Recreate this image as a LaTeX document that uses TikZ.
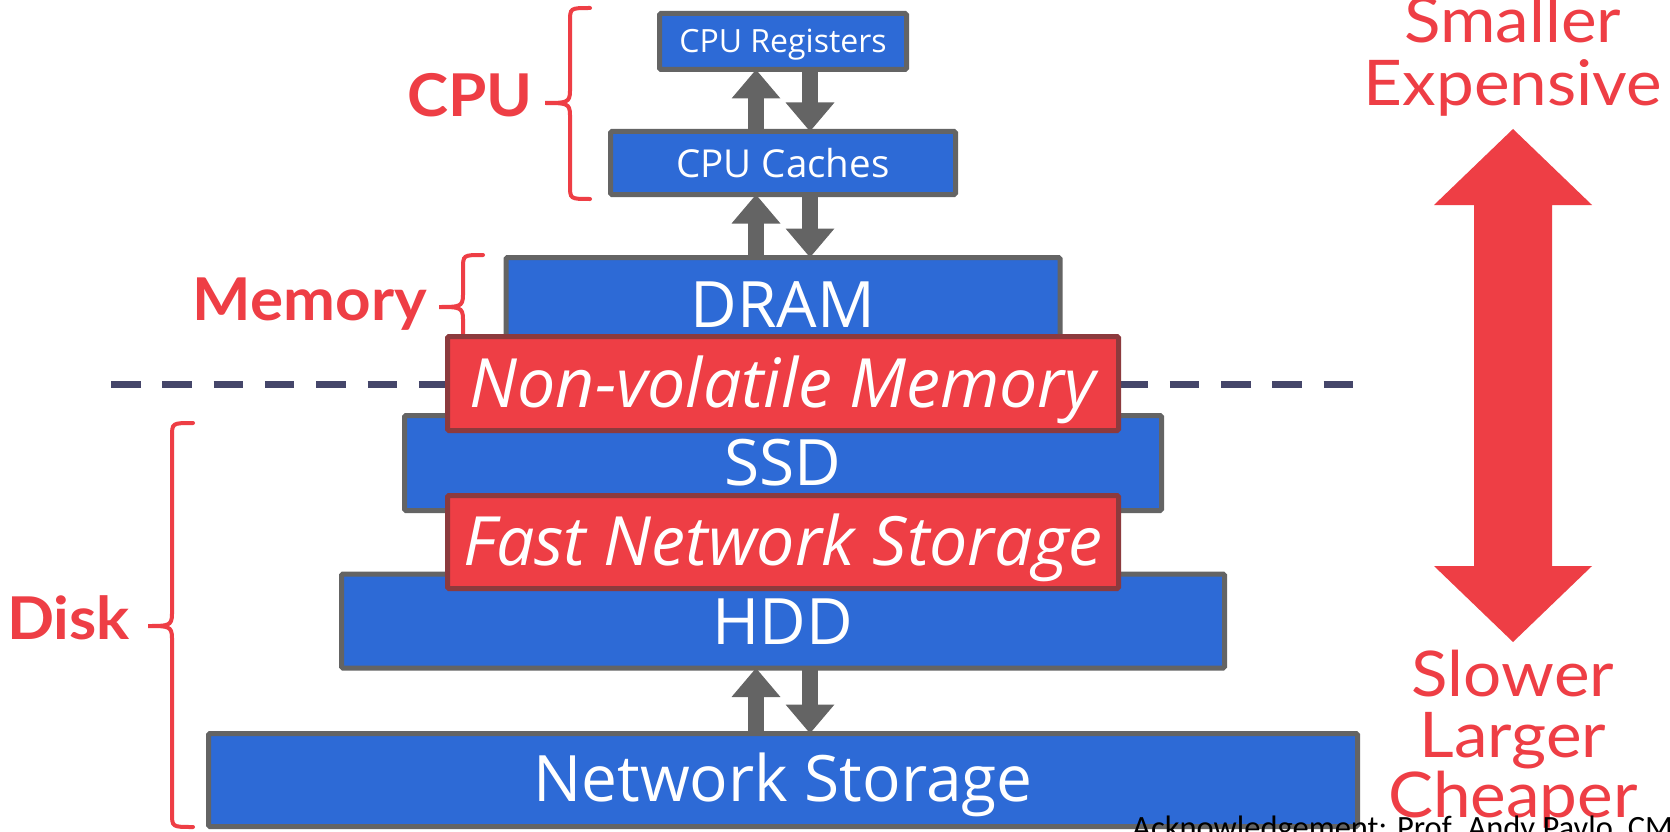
\documentclass[tikz,border=0pt]{standalone}
\usepackage{fontspec}
\setmainfont{Open Sans}
\newfontfamily\latof[FakeStretch=1.07]{Lato}
\newfontfamily\latob[FakeStretch=1.05]{Lato}
\newfontfamily\calib{Carlito}
\usetikzlibrary{arrows.meta}
\definecolor{boxblue}{HTML}{2D6AD6}
\definecolor{boxgray}{HTML}{646464}
\definecolor{hired}{HTML}{EE3E45}
\definecolor{darkred}{HTML}{8C3A3D}
\definecolor{dashnavy}{HTML}{45466A}
\newcommand\mybrace[6]{% xr, xv, xt, y1, ym, y2
  \draw[bracestyle] (#1,#4) .. controls (#2,#4) .. (#2,#4+14) -- (#2,#5-12)
    .. controls (#2,#5) and (#2-4,#5) .. (#3,#5)
    .. controls (#2-4,#5) and (#2,#5) .. (#2,#5+12) -- (#2,#6-14)
    .. controls (#2,#6) .. (#1,#6);}
\begin{document}
\begin{tikzpicture}[x=1pt,y=-1pt,
 box/.style={draw=boxgray, fill=boxblue, line width=5pt, rounded corners=1.5pt, inner sep=0pt, outer sep=0pt},
 redbox/.style={draw=darkred, fill=hired, line width=5pt, rounded corners=1.5pt, inner sep=0pt, outer sep=0pt},
 boxtext/.style={text=white, anchor=base, inner sep=0pt},
 bigtext/.style={boxtext, font=\fontsize{64}{64}\selectfont},
 italtext/.style={boxtext, font=\itshape\fontsize{68}{68}\selectfont},
 updown/.style={draw=boxgray, line width=16pt, -{Triangle[width=47pt,length=29pt]}},
 bracestyle/.style={draw=hired, line width=4pt, line cap=round},
 sepline/.style={dashnavy, line width=7.5pt, dash pattern=on 29.5pt off 21.8pt},
 lbl/.style={text=hired, font=\latob\bfseries\fontsize{59}{59}\selectfont, anchor=base east, inner sep=0pt},
 side/.style={text=hired, font=\latof\fontsize{63}{63}\selectfont, anchor=base, inner sep=0pt},
]
\useasboundingbox (0,0) rectangle (1670,832);
\clip (0,0) rectangle (1670,832);
\fill[white] (0,0) rectangle (1670,832);

% dashed separator (two runs, hidden behind the NVM box in the middle)
\draw[sepline] (111,384.5) -- (470,384.5);
\draw[sepline] (1067.2,384.5) -- (1353.5,384.5);

% braces
\mybrace{590}{570}{545}{8}{103}{199}
\mybrace{483}{463}{439}{255}{307}{359}
\mybrace{193}{172}{148}{423}{626}{827}

% boxes
\node[box, minimum width=247pt, minimum height=56pt] (regs) at (783,41.5) {};
\node[box, minimum width=345pt, minimum height=63pt] (caches) at (783,163) {};
\node[box, minimum width=554pt, minimum height=100pt] (dram) at (783,307.5) {};
\node[box, minimum width=757pt, minimum height=95pt] (ssd) at (783,463) {};
\node[box, minimum width=883pt, minimum height=94pt] (hdd) at (783,621) {};
\node[box, minimum width=1149pt, minimum height=93pt] (ns) at (783,780) {};
\node[redbox, minimum width=671pt, minimum height=94pt] (nvm) at (783,383.5) {};
\node[redbox, minimum width=671pt, minimum height=93pt] (fns) at (783,542) {};

% gray up/down arrows
\coordinate (ux) at (756,0);
\coordinate (dx) at (810,0);
\draw[updown] (caches.north -| ux) -- (regs.south -| ux);
\draw[updown] (regs.south -| dx) -- (caches.north -| dx);
\draw[updown] (dram.north -| ux) -- (caches.south -| ux);
\draw[updown] (caches.south -| dx) -- (dram.north -| dx);
\draw[updown] (ns.north -| ux) -- (hdd.south -| ux);
\draw[updown] (hdd.south -| dx) -- (ns.north -| dx);

% box texts
\node[boxtext, font=\fontsize{32}{32}\selectfont] (regst) at (783,53) {CPU Registers};
\node[boxtext, font=\fontsize{38.5}{38.5}\selectfont] (cachest) at (783,177) {CPU Caches};
\node[bigtext] (dramt) at (783,327) {DRAM};
\node[italtext] (nvmt) at (783,407) {Non-volatile Memory};
\node[bigtext] (ssdt) at (783,485) {SSD};
\node[italtext] (fnst) at (783,565) {Fast Network Storage};
\node[bigtext] (hddt) at (783,644) {HDD};
\node[bigtext] (nst) at (783,801) {Network Storage};

% left labels
\node[lbl] (cpul) at (533,117) {CPU};
\node[lbl] (meml) at (427,320) {Memory};
\node[lbl] (diskl) at (130,639) {Disk};

% big red double arrow
\fill[hired] (1513,129) -- (1592,205) -- (1552,205) -- (1552,566) -- (1592,566)
  -- (1513,642) -- (1434,566) -- (1474,566) -- (1474,205) -- (1434,205) -- cycle;

% right texts
\node[side] (s1) at (1513,43) {Smaller};
\node[side] (s2) at (1513,106) {Expensive};
\node[side] (s3) at (1513,696) {Slower};
\node[side] (s4) at (1513,757) {Larger};
\node[side] (s5) at (1513,817) {Cheaper};

% acknowledgement
\node[anchor=base west, inner sep=0pt, font=\calib\fontsize{32.5}{32.5}\selectfont] (ack) at (1132,838) {Acknowledgement: Prof. Andy Pavlo, CMU};
\end{tikzpicture}
\end{document}
